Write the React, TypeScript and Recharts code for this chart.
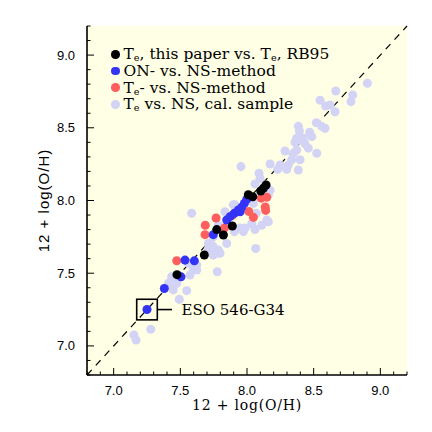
import {
  ScatterChart, Scatter, XAxis, YAxis, ZAxis, CartesianGrid, ReferenceLine, ReferenceDot, Legend, Label,
} from 'recharts'

const BLACK = '#000000'
const BLUE = '#3434f6'
const RED = '#ff5e5e'
const LAVENDER = '#d3d3f6'
const PANEL = '#ffffe6'

const SERIF = '"DejaVu Serif", serif'
const SANS = '"Liberation Sans", Arial, sans-serif'

type Pt = { x: number; y: number }

// T_e this paper vs T_e RB95
const TE_RB95: Pt[] = [
  { x: 7.475, y: 7.49 }, { x: 7.68, y: 7.625 }, { x: 7.773, y: 7.8 }, { x: 7.823, y: 7.763 },
  { x: 7.89, y: 7.825 }, { x: 8.01, y: 8.04 }, { x: 8.043, y: 8.026 }, { x: 8.103, y: 8.065 },
  { x: 8.123, y: 8.084 }, { x: 8.143, y: 8.107 },
]

const ESO: Pt = { x: 7.25, y: 7.25 }
const ESO_NAME = 'ESO 546-G34'

// ON- vs NS-method
const ON_NS: Pt[] = [
  ESO, { x: 7.38, y: 7.395 }, { x: 7.505, y: 7.475 }, { x: 7.535, y: 7.59 }, { x: 7.605, y: 7.585 },
  { x: 7.747, y: 7.765 }, { x: 7.848, y: 7.866 }, { x: 7.873, y: 7.889 }, { x: 7.905, y: 7.912 },
  { x: 7.935, y: 7.935 }, { x: 7.948, y: 7.923 }, { x: 7.96, y: 7.953 }, { x: 7.98, y: 7.98 },
  { x: 7.998, y: 8.008 },
]

// T_e- vs NS-method
const TE_NS: Pt[] = [
  { x: 7.473, y: 7.586 }, { x: 7.687, y: 7.83 }, { x: 7.685, y: 7.765 }, { x: 7.768, y: 7.88 },
  { x: 7.83, y: 7.81 }, { x: 7.89, y: 7.898 }, { x: 8.013, y: 7.925 }, { x: 8.048, y: 7.884 },
  { x: 8.106, y: 8.016 }, { x: 8.148, y: 8.022 }, { x: 8.137, y: 7.955 }, { x: 8.14, y: 7.932 },
]

// T_e vs NS, calibration sample
const CAL: Pt[] = [
  { x: 8.903, y: 8.806 }, { x: 8.793, y: 8.726 }, { x: 8.78, y: 8.68 }, { x: 8.666, y: 8.753 },
  { x: 8.548, y: 8.69 }, { x: 8.623, y: 8.657 }, { x: 8.66, y: 8.61 }, { x: 8.59, y: 8.65 },
  { x: 8.52, y: 8.535 }, { x: 8.585, y: 8.497 }, { x: 8.385, y: 8.51 }, { x: 8.393, y: 8.478 },
  { x: 8.47, y: 8.47 }, { x: 8.56, y: 8.51 }, { x: 8.41, y: 8.416 }, { x: 8.435, y: 8.39 },
  { x: 8.36, y: 8.4 }, { x: 8.373, y: 8.347 }, { x: 8.348, y: 8.325 }, { x: 8.46, y: 8.36 },
  { x: 8.523, y: 8.325 }, { x: 8.285, y: 8.34 }, { x: 8.398, y: 8.28 }, { x: 8.335, y: 8.28 },
  { x: 8.31, y: 8.244 }, { x: 8.248, y: 8.244 }, { x: 8.173, y: 8.251 }, { x: 8.298, y: 8.214 },
  { x: 8.385, y: 8.21 }, { x: 8.23, y: 8.215 }, { x: 8.09, y: 8.187 }, { x: 8.06, y: 8.114 },
  { x: 8.173, y: 8.07 }, { x: 8.135, y: 8.107 }, { x: 8.373, y: 8.428 }, { x: 8.423, y: 8.428 },
  { x: 8.486, y: 8.439 }, { x: 8.098, y: 8.152 }, { x: 8.16, y: 8.04 }, { x: 8.048, y: 7.98 },
  { x: 7.955, y: 8.233 }, { x: 7.585, y: 7.912 }, { x: 8.065, y: 7.67 }, { x: 7.777, y: 7.51 },
  { x: 7.91, y: 7.97 }, { x: 8.07, y: 7.912 }, { x: 8.148, y: 7.866 }, { x: 8.11, y: 7.83 },
  { x: 8.035, y: 7.84 }, { x: 7.985, y: 7.81 }, { x: 8.06, y: 7.8 }, { x: 7.835, y: 7.923 },
  { x: 7.785, y: 7.83 }, { x: 7.948, y: 7.81 }, { x: 7.973, y: 7.786 }, { x: 7.747, y: 7.75 },
  { x: 7.848, y: 7.705 }, { x: 7.785, y: 7.66 }, { x: 7.747, y: 7.682 }, { x: 7.71, y: 7.67 },
  { x: 7.747, y: 7.625 }, { x: 7.597, y: 7.545 }, { x: 7.56, y: 7.568 }, { x: 7.735, y: 7.694 },
  { x: 7.798, y: 7.637 }, { x: 7.905, y: 7.786 }, { x: 8.16, y: 7.854 }, { x: 7.623, y: 7.522 },
  { x: 7.897, y: 7.97 }, { x: 7.71, y: 7.705 }, { x: 7.773, y: 7.637 }, { x: 7.597, y: 7.533 },
  { x: 7.573, y: 7.488 }, { x: 7.623, y: 7.557 }, { x: 7.435, y: 7.476 }, { x: 7.473, y: 7.43 },
  { x: 7.41, y: 7.43 }, { x: 7.548, y: 7.38 }, { x: 7.492, y: 7.32 }, { x: 7.447, y: 7.385 },
  { x: 7.278, y: 7.114 }, { x: 7.152, y: 7.075 }, { x: 7.168, y: 7.04 }, { x: 7.435, y: 7.442 },
]

const NAMES = {
  rb95: 'Te, this paper vs. Te, RB95',
  onns: 'ON- vs. NS-method',
  tens: 'Te- vs. NS-method',
  cal: 'Te vs. NS, cal. sample',
}
const LEGEND_ORDER = [NAMES.rb95, NAMES.onns, NAMES.tens, NAMES.cal]

const DOMAIN: [number, number] = [6.8, 9.2]
const MAJOR = [7.0, 7.5, 8.0, 8.5, 9.0]
const TICKS = [
  6.8, 6.9, 7.0, 7.1, 7.2, 7.3, 7.4, 7.5, 7.6, 7.7, 7.8, 7.9, 8.0,
  8.1, 8.2, 8.3, 8.4, 8.5, 8.6, 8.7, 8.8, 8.9, 9.0, 9.1, 9.2,
]
const AXIS_TITLE = '12 + log(O/H)'

const isMajor = (v: number) => MAJOR.some((m) => Math.abs(m - v) < 1e-6)

// inward IDL-style ticks, labels only on bottom/left
function makeTick(side: 'bottom' | 'top' | 'left' | 'right') {
  return (props: any) => {
    const { x, y, payload } = props
    const v = payload.value as number
    const len = isMajor(v) ? 7 : 3.5
    let line
    if (side === 'bottom') line = <line x1={x} x2={x} y1={y} y2={y - len} />
    else if (side === 'top') line = <line x1={x} x2={x} y1={y} y2={y + len} />
    else if (side === 'left') line = <line x1={x} x2={x + len} y1={y} y2={y} />
    else line = <line x1={x} x2={x - len} y1={y} y2={y} />
    let label = null
    if (isMajor(v) && side === 'bottom') {
      label = <text x={x} y={y + 20} textAnchor="middle" fontFamily={SANS} fontSize={13} fill="#000">{v.toFixed(1)}</text>
    } else if (isMajor(v) && side === 'left') {
      label = <text x={x - 12} y={y + 4.5} textAnchor="end" fontFamily={SANS} fontSize={13} fill="#000">{v.toFixed(1)}</text>
    }
    return (
      <g>
        <g stroke="#000" strokeWidth={1}>{line}</g>
        {label}
      </g>
    )
  }
}

function withSub(name: string) {
  const parts = name.split('Te')
  return parts.map((p, i) => (
    <span key={i}>
      {i > 0 && <>T<sub style={{ fontSize: '0.62em', verticalAlign: '-0.2em', lineHeight: 0 }}>e</sub></>}
      {p}
    </span>
  ))
}

function LegendBox(props: any) {
  const items = [...(props.payload || [])].sort(
    (a: any, b: any) => LEGEND_ORDER.indexOf(a.value) - LEGEND_ORDER.indexOf(b.value),
  )
  return (
    <div style={{ fontFamily: SERIF, fontSize: 15.5, color: '#000' }}>
      {items.map((it: any) => (
        <div key={it.value} style={{ display: 'flex', alignItems: 'center', height: 16.7, lineHeight: '16px', whiteSpace: 'nowrap' }}>
          <span style={{ display: 'inline-block', width: 8.5, height: 8.5, borderRadius: '50%', background: it.color, marginRight: 4 }} />
          <span>{withSub(it.value)}</span>
        </div>
      ))}
    </div>
  )
}

function EsoMarker(props: any) {
  const { cx, cy } = props
  return (
    <g>
      <rect x={cx - 10.3} y={cy - 10.3} width={20.6} height={20.6} fill="none" stroke="#000" strokeWidth={1.6} />
      <line x1={cx + 10.3} x2={cx + 25} y1={cy} y2={cy} stroke="#000" strokeWidth={1.6} />
      <text x={cx + 34.5} y={cy + 5} fontFamily={SERIF} fontSize={15} fill="#000">{ESO_NAME}</text>
    </g>
  )
}

const axisLine = { stroke: '#000', strokeWidth: 1.6 }

export default function App() {
  return (
    <div style={{ position: 'absolute', left: 0, top: 0, background: '#fff' }}>
      <ScatterChart width={432} height={432} margin={{ top: 26, right: 25, bottom: 27, left: 47 }}>
        <CartesianGrid horizontal={false} vertical={false} fill={PANEL} />
        <XAxis xAxisId="b" type="number" dataKey="x" domain={DOMAIN} ticks={TICKS} interval={0}
          height={30} tickSize={0} tickMargin={0} axisLine={axisLine} tick={makeTick('bottom')}>
          <Label content={(p: any) => {
            const vb = p.viewBox
            return (
              <text x={vb.x + vb.width / 2} y={vb.y + 35} textAnchor="middle" fontFamily={SERIF}
                fontSize={14} letterSpacing={0.8} fill="#000">{AXIS_TITLE}</text>
            )
          }} />
        </XAxis>
        <XAxis xAxisId="t" orientation="top" type="number" domain={DOMAIN} ticks={TICKS} interval={0}
          height={0} tickSize={0} tickMargin={0} axisLine={axisLine} tick={makeTick('top')} />
        <YAxis yAxisId="l" type="number" dataKey="y" domain={DOMAIN} ticks={TICKS} interval={0}
          width={40} tickSize={0} tickMargin={0} axisLine={axisLine} tick={makeTick('left')}>
          <Label content={(p: any) => {
            const vb = p.viewBox
            const cx = vb.x - 4
            const cy = vb.y + vb.height / 2
            return (
              <text x={cx} y={cy} transform={`rotate(-90 ${cx} ${cy})`} textAnchor="middle"
                dominantBaseline="central" fontFamily={SANS} fontSize={15} letterSpacing={1} fill="#000">
                {AXIS_TITLE}
              </text>
            )
          }} />
        </YAxis>
        <YAxis yAxisId="r" orientation="right" type="number" domain={DOMAIN} ticks={TICKS} interval={0}
          width={0} tickSize={0} tickMargin={0} axisLine={axisLine} tick={makeTick('right')} />
        <ZAxis range={[56, 56]} />
        <ReferenceLine xAxisId="b" yAxisId="l" segment={[{ x: 6.8, y: 6.8 }, { x: 9.2, y: 9.2 }]}
          stroke="#000" strokeWidth={1.2} strokeDasharray="7 6" />
        <Scatter name={NAMES.cal} xAxisId="b" yAxisId="l" data={CAL} fill={LAVENDER} isAnimationActive={false} />
        <Scatter name={NAMES.tens} xAxisId="b" yAxisId="l" data={TE_NS} fill={RED} isAnimationActive={false} />
        <Scatter name={NAMES.onns} xAxisId="b" yAxisId="l" data={ON_NS} fill={BLUE} isAnimationActive={false} />
        <Scatter name={NAMES.rb95} xAxisId="b" yAxisId="l" data={TE_RB95} fill={BLACK} isAnimationActive={false} />
        <ReferenceDot xAxisId="b" yAxisId="l" x={ESO.x} y={ESO.y} shape={EsoMarker} />
        <Legend layout="vertical" align="center" verticalAlign="middle" content={LegendBox}
          wrapperStyle={{ position: 'absolute', left: 111, top: 46, width: 'auto', height: 'auto' }} />
      </ScatterChart>
    </div>
  )
}
